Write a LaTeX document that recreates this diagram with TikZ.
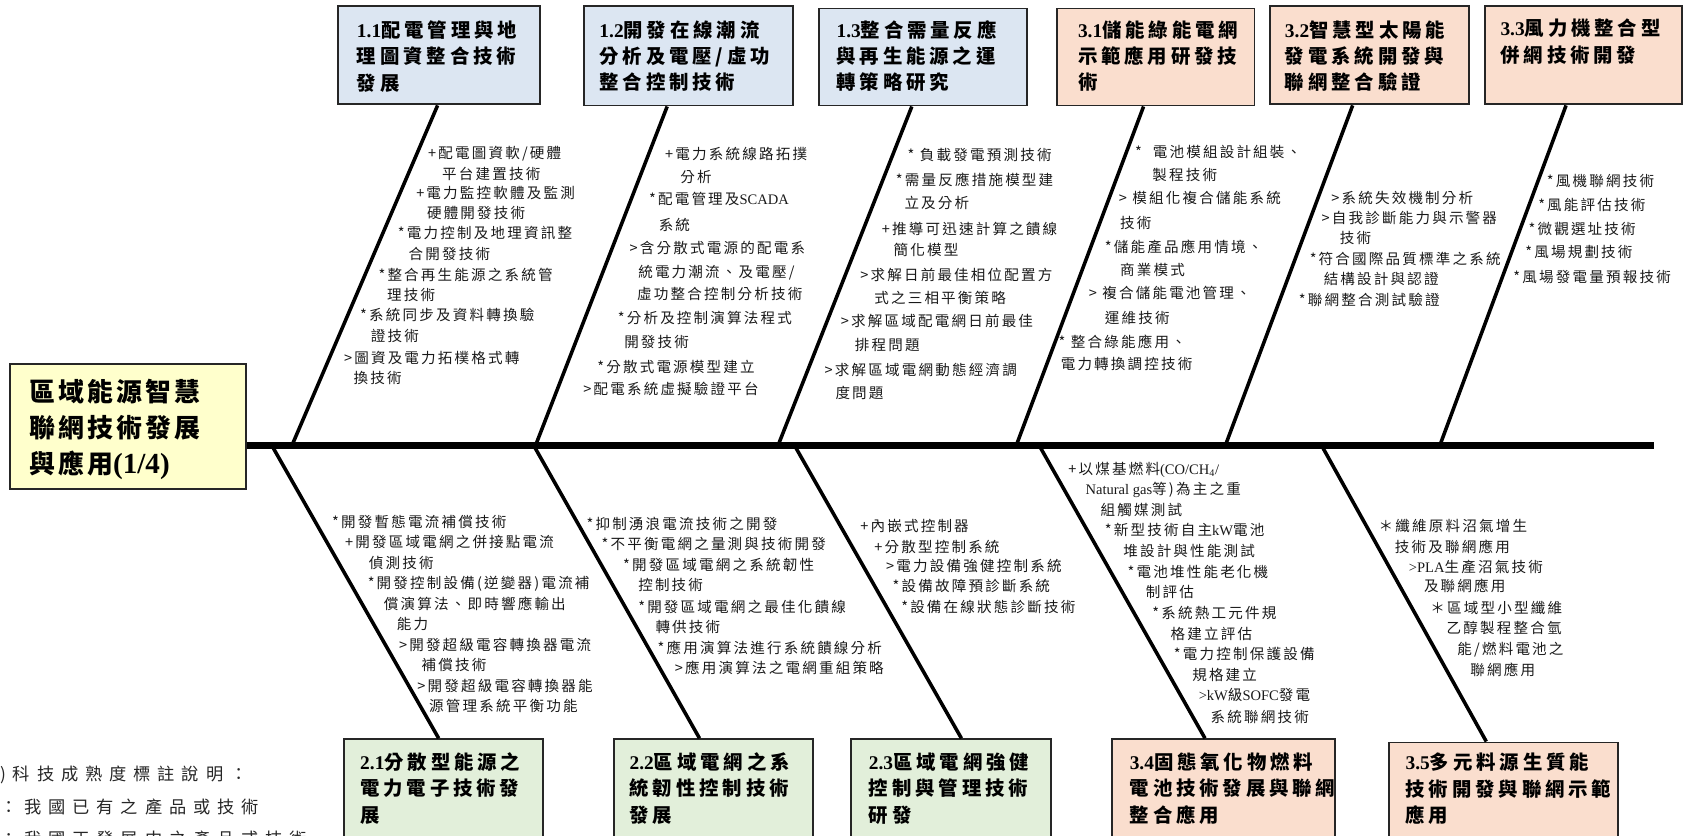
\documentclass[tikz,border=0pt]{standalone}
\usepackage{fontspec}
\newfontfamily\cjksm[LetterSpace=15]{Noto Sans CJK TC}
\newfontfamily\cjkbx[LetterSpace=20]{Noto Sans CJK TC}
\newfontfamily\cjkbg[LetterSpace=12]{Noto Sans CJK TC}
\newfontfamily\cjklg[LetterSpace=40]{Noto Sans CJK TC}
\newfontfamily\latf{Liberation Serif}
\newcommand\latn[1]{{\latf #1}}
\newcommand\bl[4]{\node[bt] (#1) at (#2,#3) {#4};}
\definecolor{cblue}{RGB}{220,230,242}
\definecolor{cpeach}{RGB}{250,222,206}
\definecolor{cgreen}{RGB}{226,239,218}
\definecolor{cyel}{RGB}{255,255,204}
\tikzset{
  cat/.style={draw=black!85, line width=1.8pt, anchor=north west, inner sep=0pt},
  cattext/.style={anchor=west, align=left, inner sep=0pt, text=black,
    font=\cjkbx\bfseries\fontsize{18}{24.5}\selectfont},
  bt/.style={anchor=west, inner sep=0pt, text=black!90, text height=11.9pt, text depth=1.6pt,
    font=\cjksm\fontsize{13.5}{15}\selectfont},
  bone/.style={line width=3.3pt, black},
  spine/.style={line width=6.5pt, black},
  leg/.style={anchor=west, inner sep=0pt, text=black!85,
    font=\cjklg\fontsize{16}{18}\selectfont},
}
\begin{document}
\begin{tikzpicture}[x=1pt,y=-1pt]
\useasboundingbox (0,0) rectangle (1568,775);
\clip (0,0) rectangle (1568,775);

% head
\node[cat, fill=cyel, minimum width=219pt, minimum height=116pt] (yb) at (8,337) {};
\node[anchor=west, align=left, inner sep=0pt, text=black,
  font=\cjkbg\bfseries\fontsize{24}{33.5}\selectfont] (ybt) at (27,398.5)
  {區域能源智慧\\聯網技術發展\\與應用{\fontsize{27}{33.5}\selectfont\latn{(1/4)}}};

% spine
\coordinate (spR) at (1535,413);
\draw[spine] (yb.east |- spR) -- (spR);

% top boxes
\node[cat, fill=cblue, minimum width=187pt, minimum height=91pt] (b11) at (313,5) {};
\node[cat, fill=cblue, minimum width=194pt, minimum height=92pt] (b12) at (541,5) {};
\node[cat, fill=cblue, minimum width=193pt, minimum height=90pt] (b13) at (759,7) {};
\node[cat, fill=cpeach, minimum width=183pt, minimum height=90pt] (b31) at (980,7) {};
\node[cat, fill=cpeach, minimum width=185pt, minimum height=91pt] (b32) at (1177,5) {};
\node[cat, fill=cpeach, minimum width=183pt, minimum height=91pt] (b33) at (1377,5) {};

\node[cattext] (b11t) at (331,52.5) {{\fontsize{18}{24.5}\selectfont\latn{1.1}}配電管理與地\\理圖資整合技術\\發展};
\node[cattext] (b12t) at (556,52) {{\fontsize{18}{24.5}\selectfont\latn{1.2}}開發在線潮流\\分析及電壓/虛功\\整合控制技術};
\node[cattext] (b13t) at (776,52) {{\fontsize{18}{24.5}\selectfont\latn{1.3}}整合需量反應\\與再生能源之運\\轉策略研究};
\node[cattext] (b31t) at (1000,52) {{\fontsize{18}{24.5}\selectfont\latn{3.1}}儲能綠能電網\\示範應用研發技\\術};
\node[cattext] (b32t) at (1192,52) {{\fontsize{18}{24.5}\selectfont\latn{3.2}}智慧型太陽能\\發電系統開發與\\聯網整合驗證};
\node[cattext] (b33t) at (1392,38.5) {{\fontsize{18}{24.5}\selectfont\latn{3.3}}風力機整合型\\併網技術開發};

% bottom boxes
\node[cat, fill=cgreen, minimum width=185pt, minimum height=95pt] (b21) at (318,685) {};
\node[cat, fill=cgreen, minimum width=184pt, minimum height=95pt] (b22) at (569,685) {};
\node[cat, fill=cgreen, minimum width=185pt, minimum height=95pt] (b23) at (789,685) {};
\node[cat, fill=cpeach, minimum width=207pt, minimum height=95pt] (b34) at (1031,685) {};
\node[cat, fill=cpeach, minimum width=212pt, minimum height=92pt] (b35) at (1288,688) {};

\node[cattext] (b21t) at (334,731.5) {{\fontsize{18}{24.5}\selectfont\latn{2.1}}分散型能源之\\電力電子技術發\\展};
\node[cattext] (b22t) at (584,731.5) {{\fontsize{18}{24.5}\selectfont\latn{2.2}}區域電網之系\\統韌性控制技術\\發展};
\node[cattext] (b23t) at (806,731.5) {{\fontsize{18}{24.5}\selectfont\latn{2.3}}區域電網強健\\控制與管理技術\\研發};
\node[cattext] (b34t) at (1048,731.5) {{\fontsize{18}{24.5}\selectfont\latn{3.4}}固態氧化物燃料\\電池技術發展與聯網\\整合應用};
\node[cattext] (b35t) at (1304,732) {{\fontsize{18}{24.5}\selectfont\latn{3.5}}多元料源生質能\\技術開發與聯網示範\\應用};

% bones (top)
\coordinate (s11) at (271,413);  \coordinate (t11) at (406,0);
\coordinate (s12) at (497,413);  \coordinate (t12) at (619,0);
\coordinate (s13) at (722,413);  \coordinate (t13) at (846,0);
\coordinate (s31) at (943,413);  \coordinate (t31) at (1061,0);
\coordinate (s32) at (1137,413); \coordinate (t32) at (1255,0);
\coordinate (s33) at (1336,413); \coordinate (t33) at (1453,0);
\draw[bone] (b11.south -| t11) -- (s11);
\draw[bone] (b12.south -| t12) -- (s12);
\draw[bone] (b13.south -| t13) -- (s13);
\draw[bone] (b31.south -| t31) -- (s31);
\draw[bone] (b32.south -| t32) -- (s32);
\draw[bone] (b33.south -| t33) -- (s33);

% bones (bottom)
\coordinate (u21) at (252,413);  \coordinate (v21) at (407,0);
\coordinate (u22) at (495,413);  \coordinate (v22) at (649,0);
\coordinate (u23) at (737,413);  \coordinate (v23) at (892,0);
\coordinate (u34) at (964,413);  \coordinate (v34) at (1118,0);
\coordinate (u35) at (1226,413); \coordinate (v35) at (1379,0);
\draw[bone] (u21) -- (b21.north -| v21);
\draw[bone] (u22) -- (b22.north -| v22);
\draw[bone] (u23) -- (b23.north -| v23);
\draw[bone] (u34) -- (b34.north -| v34);
\draw[bone] (u35) -- (b35.north -| v35);

% 1.1
\bl{a1}{397}{142}{+配電圖資軟/硬體}
\bl{a2}{410}{161}{平台建置技術}
\bl{a3}{386}{179}{+電力監控軟體及監測}
\bl{a4}{396}{198}{硬體開發技術}
\bl{a5}{369}{216}{*電力控制及地理資訊整}
\bl{a6}{379}{236}{合開發技術}
\bl{a7}{351}{255}{*整合再生能源之系統管}
\bl{a8}{359}{274}{理技術}
\bl{a9}{334}{292}{*系統同步及資料轉換驗}
\bl{a10}{344}{312}{證技術}
\bl{a11}{319}{332}{>圖資及電力拓樸格式轉}
\bl{a12}{328}{351}{換技術}
% 1.2
\bl{c1}{617}{143}{+電力系統線路拓撲}
\bl{c2}{631}{164}{分析}
\bl{c3}{602}{185}{*配電管理及\latn{SCADA}}
\bl{c4}{611}{209}{系統}
\bl{c5}{584}{230}{>含分散式電源的配電系}
\bl{c6}{592}{252}{統電力潮流、及電壓/}
\bl{c7}{591}{273}{虛功整合控制分析技術}
\bl{c8}{573}{295}{*分析及控制演算法程式}
\bl{c9}{579}{317}{開發技術}
\bl{c10}{554}{340}{*分散式電源模型建立}
\bl{c11}{541}{361}{>配電系統虛擬驗證平台}
% 1.3
\bl{d1}{842}{144}{* 負載發電預測技術}
\bl{d2}{831}{167}{*需量反應措施模型建}
\bl{d3}{839}{188}{立及分析}
\bl{d4}{818}{212}{+推導可迅速計算之饋線}
\bl{d5}{829}{232}{簡化模型}
\bl{d6}{798}{255}{>求解日前最佳相位配置方}
\bl{d7}{811}{276}{式之三相平衡策略}
\bl{d8}{780}{298}{>求解區域配電網日前最佳}
\bl{d9}{793}{320}{排程問題}
\bl{d10}{765}{343}{>求解區域電網動態經濟調}
\bl{d11}{775}{365}{度問題}
% 3.1
\bl{e1}{1053}{141}{* \ 電池模組設計組裝、}
\bl{e2}{1069}{162}{製程技術}
\bl{e3}{1038}{184}{> 模組化複合儲能系統}
\bl{e4}{1039}{207}{技術}
\bl{e5}{1025}{229}{*儲能產品應用情境、}
\bl{e6}{1039}{250}{商業模式}
\bl{e7}{1010}{272}{> 複合儲能電池管理、}
\bl{e8}{1025}{295}{運維技術}
\bl{e9}{982}{317}{* 整合綠能應用、}
\bl{e10}{984}{338}{電力轉換調控技術}
% 3.2
\bl{f1}{1235}{184}{>系統失效機制分析}
\bl{f2}{1226}{202}{>自我診斷能力與示警器}
\bl{f3}{1243}{221}{技術}
\bl{f4}{1215}{240}{*符合國際品質標準之系統}
\bl{f5}{1228}{259}{結構設計與認證}
\bl{f6}{1205}{278}{*聯網整合測試驗證}
% 3.3
\bl{g1}{1435}{168}{*風機聯網技術}
\bl{g2}{1427}{190}{*風能評估技術}
\bl{g3}{1418}{212}{*微觀選址技術}
\bl{g4}{1415}{234}{*風場規劃技術}
\bl{g5}{1404}{257}{*風場發電量預報技術}
% 2.1
\bl{h1}{308}{484}{*開發暫態電流補償技術}
\bl{h2}{320}{503}{+開發區域電網之併接點電流}
\bl{h3}{342}{522}{偵測技術}
\bl{h4}{341}{541}{*開發控制設備(逆變器)電流補}
\bl{h5}{356}{560}{償演算法、即時響應輸出}
\bl{h6}{368}{579}{能力}
\bl{h7}{370}{598}{>開發超級電容轉換器電流}
\bl{h8}{391}{617}{補償技術}
\bl{h9}{387}{636}{>開發超級電容轉換器能}
\bl{h10}{398}{655}{源管理系統平衡功能}
% 2.2
\bl{i1}{544}{486}{*抑制湧浪電流技術之開發}
\bl{i2}{558}{505}{*不平衡電網之量測與技術開發}
\bl{i3}{578}{524}{*開發區域電網之系統韌性}
\bl{i4}{592}{543}{控制技術}
\bl{i5}{592}{563}{*開發區域電網之最佳化饋線}
\bl{i6}{608}{582}{轉供技術}
\bl{i7}{610}{601}{*應用演算法進行系統饋線分析}
\bl{i8}{626}{620}{>應用演算法之電網重組策略}
% 2.3
\bl{j1}{798}{488}{+內嵌式控制器}
\bl{j2}{811}{507}{+分散型控制系統}
\bl{j3}{822}{525}{>電力設備強健控制系統}
\bl{j4}{828}{544}{*設備故障預診斷系統}
\bl{j5}{836}{563}{*設備在線狀態診斷技術}
% 3.4
\bl{k1}{991}{435}{+以煤基燃料\latn{(CO/CH\textsubscript{4}/}}
\bl{k2}{1007}{454}{\latn{Natural gas}等)為主之重}
\bl{k3}{1021}{473}{組觸媒測試}
\bl{k4}{1025}{492}{*新型技術自主\latn{kW}電池}
\bl{k5}{1042}{511}{堆設計與性能測試}
\bl{k6}{1046}{531}{*電池堆性能老化機}
\bl{k7}{1063}{549}{制評估}
\bl{k8}{1069}{569}{*系統熱工元件規}
\bl{k9}{1086}{588}{格建立評估}
\bl{k10}{1089}{607}{*電力控制保護設備}
\bl{k11}{1106}{626}{規格建立}
\bl{k12}{1112}{645}{\latn{>kW}級\latn{SOFC}發電}
\bl{k13}{1123}{665}{系統聯網技術}
% 3.5
\bl{m1}{1279}{488}{＊纖維原料沼氣增生}
\bl{m2}{1294}{507}{技術及聯網應用}
\bl{m3}{1307}{526}{\latn{>PLA}生產沼氣技術}
\bl{m4}{1321}{544}{及聯網應用}
\bl{m5}{1327}{564}{＊區域型小型纖維}
\bl{m6}{1342}{583}{乙醇製程整合氫}
\bl{m7}{1352}{602}{能/燃料電池之}
\bl{m8}{1364}{622}{聯網應用}

% legend
\node[leg] (lg1) at (0,719) {)科技成熟度標註說明：};
\node[leg] (lg2) at (0,749) {：我國已有之產品或技術};
\node[leg] (lg3) at (0,778) {：我國正發展中之產品或技術};
\end{tikzpicture}
\end{document}
